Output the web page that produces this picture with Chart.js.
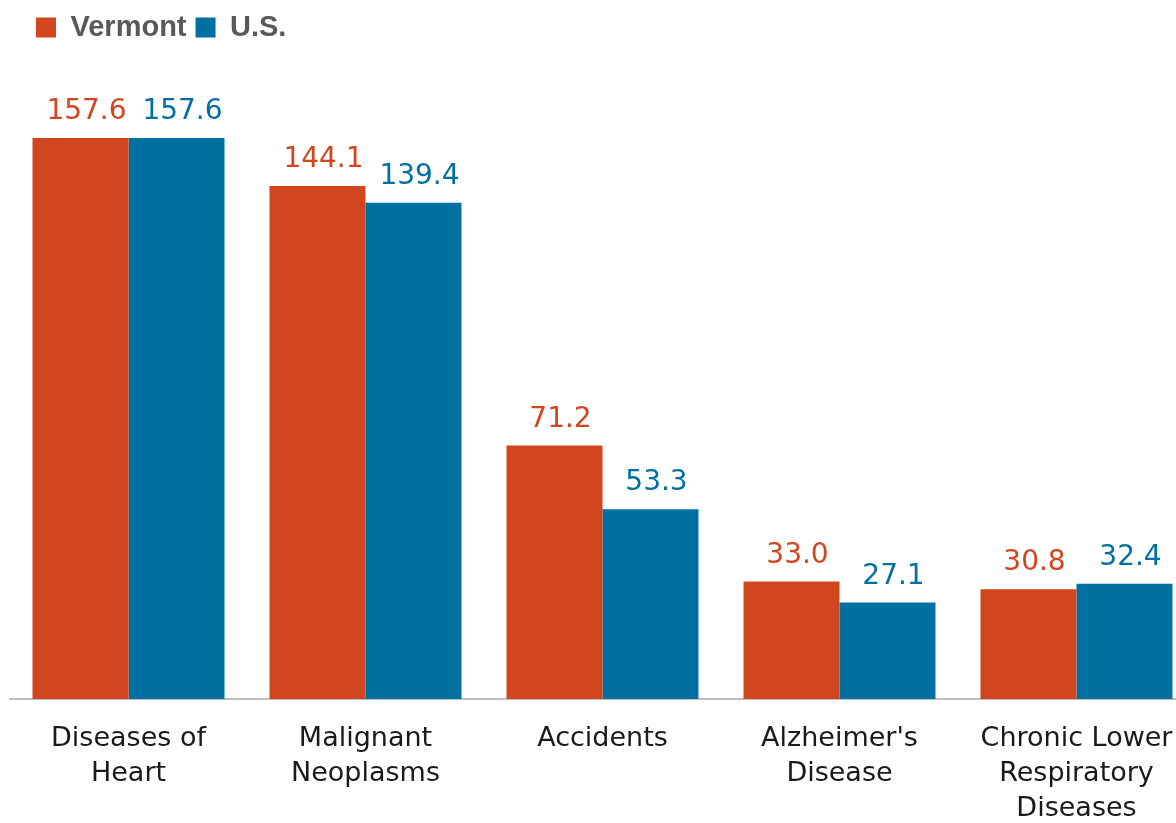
<!DOCTYPE html>
<html>
<head>
<meta charset="utf-8">
<script src="https://cdn.jsdelivr.net/npm/chart.js@4.4.0/dist/chart.umd.min.js"></script>
<style>
  html, body { margin: 0; padding: 0; background: #fff; overflow: hidden; }
  #wrap { position: relative; width: 1195px; height: 823px; }
</style>
</head>
<body>
<div id="wrap"><canvas id="myChart"></canvas></div>
<script>
var categories = [
  ["Diseases of", "Heart"],
  ["Malignant", "Neoplasms"],
  ["Accidents"],
  ["Alzheimer's", "Disease"],
  ["Chronic Lower", "Respiratory", "Diseases"]
];
var seriesNames = ["Vermont", "U.S."];
var vermontValues = [157.6, 144.1, 71.2, 33.0, 30.8];
var usValues = [157.6, 139.4, 53.3, 27.1, 32.4];
var seriesColors = ["#D2461F", "#0070A1"];

// value labels above each bar
var valueLabels = {
  id: "valueLabels",
  afterDatasetsDraw: function (chart) {
    var ctx = chart.ctx;
    ctx.save();
    ctx.font = "28px 'DejaVu Sans'";
    ctx.textAlign = "center";
    ctx.textBaseline = "alphabetic";
    chart.data.datasets.forEach(function (ds, i) {
      ctx.fillStyle = ds.backgroundColor;
      chart.getDatasetMeta(i).data.forEach(function (bar, j) {
        ctx.fillText(ds.data[j].toFixed(1), bar.x + 6, bar.y - 19);
      });
    });
    ctx.restore();
  }
};

// fixed legend height and a nudge so it sits like the original
var legendPlace = {
  id: "legendPlace",
  beforeInit: function (chart) {
    var fit = chart.legend.fit;
    chart.legend.fit = function () {
      fit.call(this);
      this.height = 60;
    };
  },
  afterLayout: function (chart) {
    chart.legend.left += 17;
    chart.legend.right += 17;
    chart.legend.top += 4;
  }
};

new Chart("myChart", {
  type: "bar",
  data: {
    labels: categories,
    datasets: [
      { label: seriesNames[0], data: vermontValues, backgroundColor: seriesColors[0] },
      { label: seriesNames[1], data: usValues, backgroundColor: seriesColors[1] }
    ]
  },
  options: {
    responsive: true,
    maintainAspectRatio: false,
    animation: false,
    layout: { padding: { left: 10, right: 0, top: 0, bottom: 0 } },
    datasets: {
      bar: { categoryPercentage: 0.81, barPercentage: 1.0, borderWidth: 0 }
    },
    plugins: {
      legend: {
        position: "top",
        align: "start",
        labels: {
          boxWidth: 20,
          boxHeight: 20,
          padding: 9,
          color: "#595959",
          font: { family: "'Liberation Sans'", size: 29, weight: "bold" }
        }
      },
      tooltip: { enabled: false }
    },
    scales: {
      x: {
        grid: { display: false, drawTicks: false },
        border: { display: true, color: "#BFBFBF", width: 2 },
        ticks: {
          color: "#1a1a1a",
          padding: 22,
          maxRotation: 0,
          autoSkip: false,
          font: { family: "'DejaVu Sans'", size: 27, lineHeight: 1.3 }
        },
        afterFit: function (scale) { scale.height = 124; }
      },
      y: {
        display: false,
        min: 0,
        max: 179.5
      }
    }
  },
  plugins: [valueLabels, legendPlace]
});
</script>
</body>
</html>
